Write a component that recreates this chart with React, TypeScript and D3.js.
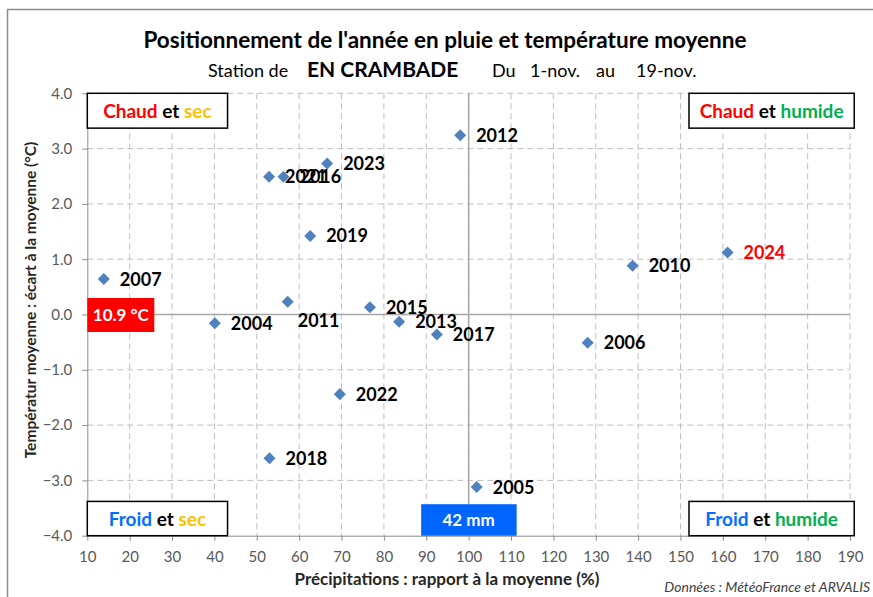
import React, { useEffect, useRef } from 'react';
import * as d3 from 'd3';

// années et positions (pluie en % de la moyenne, écart de température en °C)
const years = ['2007', '2004', '2021', '2016', '2023', '2019', '2011', '2015', '2013', '2017', '2012', '2006', '2010', '2024', '2022', '2018', '2005'];
const rain = [13.9, 40.1, 52.9, 56.3, 66.6, 62.6, 57.3, 76.7, 83.6, 92.5, 98.0, 128.1, 138.7, 161.1, 69.6, 53.0, 101.9];
const temp = [0.64, -0.16, 2.49, 2.49, 2.73, 1.42, 0.23, 0.13, -0.13, -0.36, 3.24, -0.51, 0.88, 1.12, -1.44, -2.60, -3.12];
const xTicks = [10, 20, 30, 40, 50, 60, 70, 80, 90, 100, 110, 120, 130, 140, 150, 160, 170, 180, 190];
const yTicks = [-4, -3, -2, -1, 0, 1, 2, 3, 4];
const meanTemp = '10.9 °C';
const meanRain = '42 mm';
const currentYear = '2024';

const FONT = 'Lato, "Open Sans", sans-serif';

export default function App() {
  const ref = useRef<SVGSVGElement>(null);

  useEffect(() => {
    const svg = d3.select(ref.current);
    svg.selectAll('*').remove();

    const x = d3.scaleLinear().domain([10, 190]).range([87.3, 850]);
    const y = d3.scaleLinear().domain([-4, 4]).range([535.7, 93.3]);

    // cadre
    svg.append('rect').attr('x', 7.5).attr('y', 9.5).attr('width', 900).attr('height', 620)
      .attr('fill', 'white').attr('stroke', '#8c8c8c').attr('stroke-width', 1.5);

    // titre
    svg.append('text').attr('x', 445).attr('y', 48).attr('text-anchor', 'middle')
      .attr('font-family', FONT).attr('font-weight', 'bold').attr('font-size', 22.5)
      .text("Positionnement de l'année en pluie et température moyenne");

    const sub = svg.append('g').attr('font-family', FONT);
    const subParts: [number, string, number, string][] = [
      [208, 'Station de', 18, 'normal'], [307, 'EN CRAMBADE', 21, 'bold'], [492, 'Du', 18, 'normal'],
      [530, '1-nov.', 18, 'normal'], [596, 'au', 18, 'normal'], [636, '19-nov.', 18, 'normal']
    ];
    subParts.forEach(([px, t, fs, fw]) => {
      sub.append('text').attr('x', px).attr('y', 77).attr('font-size', fs).attr('font-weight', fw).text(t);
    });

    // grille
    const grid = svg.append('g');
    grid.selectAll('.gx').data(xTicks.slice(1)).enter().append('line')
      .attr('x1', d => x(d)).attr('x2', d => x(d)).attr('y1', y(4)).attr('y2', y(-4))
      .attr('stroke', '#bfbfbf').attr('stroke-dasharray', '6,4');
    grid.selectAll('.gy').data(yTicks.slice(1)).enter().append('line')
      .attr('x1', x(10)).attr('x2', x(190)).attr('y1', d => y(d)).attr('y2', d => y(d))
      .attr('stroke', '#bfbfbf').attr('stroke-dasharray', '6,4');

    // axes
    const xAxis = svg.append('g').attr('transform', `translate(0,${y(-4)})`)
      .call(d3.axisBottom(x).tickValues(xTicks).tickSize(5).tickPadding(11).tickSizeOuter(0));
    const yAxis = svg.append('g').attr('transform', `translate(${x(10)},0)`)
      .call(d3.axisLeft(y).tickValues(yTicks).tickFormat(d3.format('.1f')).tickSize(5).tickPadding(10).tickSizeOuter(0));
    [xAxis, yAxis].forEach(a => {
      a.selectAll('path, line').attr('stroke', '#8c8c8c');
      a.selectAll('text').attr('font-family', FONT).attr('font-size', 15).attr('fill', '#595959');
    });

    // lignes moyennes
    svg.append('line').attr('x1', x(100)).attr('x2', x(100)).attr('y1', y(4)).attr('y2', y(-4))
      .attr('stroke', '#a6a6a6').attr('stroke-width', 1.5);
    svg.append('line').attr('x1', x(10)).attr('x2', x(190)).attr('y1', y(0)).attr('y2', y(0))
      .attr('stroke', '#a6a6a6').attr('stroke-width', 1.5);

    // titres d'axes
    svg.append('text').attr('x', 447).attr('y', 585).attr('text-anchor', 'middle')
      .attr('font-family', FONT).attr('font-weight', 'bold').attr('font-size', 17).attr('fill', '#262626')
      .text('Précipitations : rapport à la moyenne (%)');
    svg.append('text').attr('transform', `translate(36,300) rotate(-90)`).attr('text-anchor', 'middle')
      .attr('font-family', FONT).attr('font-weight', 'bold').attr('font-size', 15.5).attr('fill', '#262626')
      .text('Températur moyenne : écart à la moyenne (°C)');

    // boîtes de quadrants
    const quad = (x0: number, y0: number, x1: number, y1: number, parts: [string, string][]) => {
      svg.append('rect').attr('x', x(x0)).attr('y', y(y0)).attr('width', x(x1) - x(x0)).attr('height', y(y1) - y(y0))
        .attr('fill', 'white').attr('stroke', 'black').attr('stroke-width', 1.5);
      const t = svg.append('text').attr('x', (x(x0) + x(x1)) / 2).attr('y', (y(y0) + y(y1)) / 2 + 7)
        .attr('text-anchor', 'middle').attr('font-family', FONT).attr('font-weight', 'bold').attr('font-size', 19);
      parts.forEach(([s, c]) => t.append('tspan').attr('fill', c).text(s));
    };
    quad(10, 4, 43.1, 3.37, [['Chaud', '#ff0000'], [' et ', '#000'], ['sec', '#ffc000']]);
    quad(152, 4, 191, 3.37, [['Chaud', '#ff0000'], [' et ', '#000'], ['humide', '#00b050']]);
    quad(10, -3.38, 43.1, -4, [['Froid', '#0070ff'], [' et ', '#000'], ['sec', '#ffc000']]);
    quad(152, -3.38, 191, -4, [['Froid', '#0070ff'], [' et ', '#000'], ['humide', '#00b050']]);

    // repères des moyennes
    svg.append('rect').attr('x', x(10)).attr('y', y(0) - 16.5).attr('width', 67).attr('height', 34).attr('fill', '#ff0000');
    svg.append('text').attr('x', x(10) + 33.5).attr('y', y(0) + 6.5).attr('text-anchor', 'middle')
      .attr('font-family', FONT).attr('font-weight', 'bold').attr('font-size', 17).attr('fill', 'white').text(meanTemp);
    svg.append('rect').attr('x', x(100) - 47.5).attr('y', y(-4) - 31.5).attr('width', 95.5).attr('height', 31.5).attr('fill', '#0066ff');
    svg.append('text').attr('x', x(100)).attr('y', y(-4) - 9.5).attr('text-anchor', 'middle')
      .attr('font-family', FONT).attr('font-weight', 'bold').attr('font-size', 17).attr('fill', 'white').text(meanRain);

    // points
    const sym = d3.symbol().type(d3.symbolDiamond2).size(92);
    const pts = svg.append('g');
    years.forEach((yr, i) => {
      pts.append('path').attr('d', sym()).attr('fill', '#4f81bd')
        .attr('transform', `translate(${x(rain[i])},${y(temp[i])})`);
    });

    // étiquettes
    const below = (yr: string) => yr === '2011';
    const lab = svg.append('g').attr('font-family', FONT).attr('font-weight', 'bold').attr('font-size', 18);
    years.forEach((yr, i) => {
      lab.append('text')
        .attr('x', x(rain[i]) + (below(yr) ? 10 : 16))
        .attr('y', y(temp[i]) + (below(yr) ? 25 : 6.5))
        .attr('fill', yr === currentYear ? '#ff0000' : '#000')
        .text(yr);
    });

    svg.append('text').attr('x', 870).attr('y', 592).attr('text-anchor', 'end')
      .attr('font-family', FONT).attr('font-style', 'italic').attr('font-size', 14).attr('fill', '#404040')
      .text('Données : MétéoFrance et ARVALIS');
  }, []);

  return (
    <div style={{ position: 'absolute', left: 0, top: 0 }}>
      <svg ref={ref} width={873} height={597} style={{ display: 'block' }} />
    </div>
  );
}
